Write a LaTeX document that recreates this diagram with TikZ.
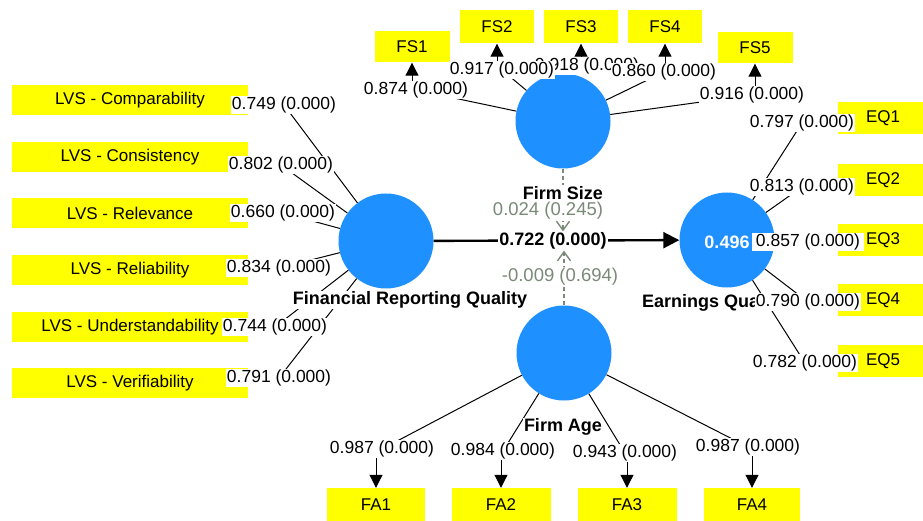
\documentclass[tikz,border=0pt]{standalone}
\usepackage{fontspec}
\setmainfont{Liberation Sans}
\usetikzlibrary{arrows.meta}
\definecolor{plsblue}{RGB}{30,144,255}
\definecolor{plsyellow}{RGB}{255,255,0}
\definecolor{modgrey}{RGB}{122,138,120}

\begin{document}
\begin{tikzpicture}[x=1pt, y=-1pt,
		latent/.style={circle, fill=plsblue, minimum size=95pt, inner sep=0pt},
		indicator/.style={fill=plsyellow, minimum height=31pt, inner sep=0pt, font=\fontsize{17}{20}\selectfont},
		loading/.style={fill=white, inner sep=1pt, font=\fontsize{17.5}{20}\selectfont},
		lvname/.style={fill=white, inner sep=1pt, font=\bfseries\fontsize{18}{21}\selectfont},
		modlabel/.style={fill=white, inner sep=1pt, text=modgrey, font=\fontsize{18.5}{21}\selectfont},
		wire/.style={line width=1pt},
		outarrow/.style={line width=1pt, -{Triangle[length=13pt, width=13pt]}},
		mainpath/.style={line width=2.4pt, -{Triangle[length=16pt, width=16pt]}},
		modpath/.style={line width=1.4pt, color=modgrey, dash pattern=on 4pt off 3pt, -{Straight Barb[length=9pt, width=13pt]}}]
		%%%%% START %%%%%
		
		\useasboundingbox (0, 0) rectangle (923, 521);
		
		% latent variables
		\node[latent] (frq) at (386, 241) {};
		\node[latent] (fsz) at (563, 121) {};
		\node[latent] (eq) at (727, 240) {};
		\node[latent] (fag) at (564, 353) {};
		
		% indicators
		\node[indicator, minimum width=236pt, minimum height=30pt] (c1) at (130, 100) {LVS - Comparability};
		\node[indicator, minimum width=236pt, minimum height=30pt] (c2) at (130, 157) {LVS - Consistency};
		\node[indicator, minimum width=236pt, minimum height=30pt] (c3) at (130, 213) {LVS - Relevance};
		\node[indicator, minimum width=236pt, minimum height=30pt] (c4) at (130, 270) {LVS - Reliability};
		\node[indicator, minimum width=236pt, minimum height=30pt] (c5) at (130, 327) {LVS - Understandability};
		\node[indicator, minimum width=236pt, minimum height=30pt] (c6) at (130, 383) {LVS - Verifiability};
		
		\node[indicator, minimum width=75pt] (fs1) at (412, 47) {FS1};
		\node[indicator, minimum width=74pt, minimum height=33pt] (fs2) at (497, 27) {FS2};
		\node[indicator, minimum width=74pt, minimum height=33pt] (fs3) at (581, 27) {FS3};
		\node[indicator, minimum width=74pt, minimum height=33pt] (fs4) at (665, 27) {FS4};
		\node[indicator, minimum width=75pt] (fs5) at (755, 48) {FS5};
		
		\node[indicator, minimum width=90pt, minimum height=32pt] (eq1) at (883, 118) {EQ1};
		\node[indicator, minimum width=90pt, minimum height=32pt] (eq2) at (883, 180) {EQ2};
		\node[indicator, minimum width=90pt, minimum height=32pt] (eq3) at (883, 240) {EQ3};
		\node[indicator, minimum width=90pt, minimum height=32pt] (eq4) at (883, 300) {EQ4};
		\node[indicator, minimum width=90pt, minimum height=32pt] (eq5) at (883, 361) {EQ5};
		
		\node[indicator, minimum width=98pt, minimum height=34pt] (fa1) at (376, 505) {FA1};
		\node[indicator, minimum width=99pt, minimum height=34pt] (fa2) at (501, 505) {FA2};
		\node[indicator, minimum width=99pt, minimum height=34pt] (fa3) at (627, 505) {FA3};
		\node[indicator, minimum width=96pt, minimum height=34pt] (fa4) at (752, 505) {FA4};
		
		% loading labels (coordinates only, text placed later)
		\coordinate (pc1) at (284, 105);
		\coordinate (pc2) at (281, 165);
		\coordinate (pc3) at (283, 213);
		\coordinate (pc4) at (279, 268);
		\coordinate (pc5) at (275, 327);
		\coordinate (pc6) at (279, 378);
		
		\draw[wire] (pc1) -- (frq);
		\draw[wire] (pc2) -- (frq);
		\draw[wire] (pc3) -- (frq);
		\draw[wire] (pc4) -- (frq);
		\draw[wire] (pc5) -- (frq);
		\draw[wire] (pc6) -- (frq);
		
		\node[loading] (lc1) at (pc1) {0.749 (0.000)};
		\node[loading] (lc2) at (pc2) {0.802 (0.000)};
		\node[loading] (lc3) at (pc3) {0.660 (0.000)};
		\node[loading] (lc4) at (pc4) {0.834 (0.000)};
		\node[loading] (lc6) at (pc6) {0.791 (0.000)};
		\node[loading] (lc5) at (pc5) {0.744 (0.000)};
		
		% firm size
		\coordinate (pfs1) at (416, 90);
		\coordinate (pfs2) at (502, 70);
		\coordinate (pfs3) at (587, 66);
		\coordinate (pfs4) at (664, 72);
		\coordinate (pfs5) at (752, 95);
		
		\draw[wire] (fsz) -- (pfs1);
		\draw[wire] (fsz) -- (pfs2);
		\draw[wire] (fsz) -- (pfs4);
		\draw[wire] (fsz) -- (pfs5);
		
		\node[loading] (lfs3) at (pfs3) {0.918 (0.000)};
		\node[loading] (lfs1) at (pfs1) {0.874 (0.000)};
		\node[loading] (lfs2) at (pfs2) {0.917 (0.000)};
		\node[loading] (lfs4) at (pfs4) {0.860 (0.000)};
		\node[loading] (lfs5) at (pfs5) {0.916 (0.000)};
		
		\draw[outarrow] (lfs1.north -| fs1.south) -- (fs1.south);
		\draw[outarrow] (lfs2.north -| fs2.south) -- (fs2.south);
		\draw[outarrow] (lfs3.north -| fs3.south) -- (fs3.south);
		\draw[outarrow] (lfs4.north -| fs4.south) -- (fs4.south);
		\draw[outarrow] (lfs5.north -| fs5.south) -- (fs5.south);
		
		% earnings quality
		\coordinate (peq1) at (802, 123);
		\coordinate (peq2) at (802, 187);
		\coordinate (peq3) at (808, 242);
		\coordinate (peq4) at (808, 302);
		\coordinate (peq5) at (805, 363);
		
		\draw[wire] (eq) -- (peq1);
		\draw[wire] (eq) -- (peq2);
		\draw[wire] (eq) -- (peq4);
		\draw[wire] (eq) -- (peq5);
		
		\node[text=white, font=\bfseries\fontsize{18}{21}\selectfont] (r2) at (727, 242) {0.496};
		\node[lvname, fill=none, anchor=west] (neq) at (641, 303) {Earnings Quality};
		
		\node[loading] (leq1) at (peq1) {0.797 (0.000)};
		\node[loading] (leq2) at (peq2) {0.813 (0.000)};
		\node[loading, inner xsep=4pt] (leq3) at (peq3) {0.857 (0.000)};
		\node[loading] (leq4) at (peq4) {0.790 (0.000)};
		\node[loading] (leq5) at (peq5) {0.782 (0.000)};
		
		% firm age
		\coordinate (pfa1) at (382, 449);
		\coordinate (pfa2) at (503, 451);
		\coordinate (pfa3) at (625, 453);
		\coordinate (pfa4) at (748, 447);
		
		\draw[wire] (fag) -- (pfa1);
		\draw[wire] (fag) -- (pfa2);
		\draw[wire] (fag) -- (pfa3);
		\draw[wire] (fag) -- (pfa4);
		
		\node[loading] (lfa1) at (pfa1) {0.987 (0.000)};
		\node[loading] (lfa2) at (pfa2) {0.984 (0.000)};
		\node[loading] (lfa3) at (pfa3) {0.943 (0.000)};
		\node[loading] (lfa4) at (pfa4) {0.987 (0.000)};
		
		\draw[outarrow] (lfa1.south -| fa1.north) -- (fa1.north);
		\draw[outarrow] (lfa2.south -| fa2.north) -- (fa2.north);
		\draw[outarrow] (lfa3.south -| fa3.north) -- (fa3.north);
		\draw[outarrow] (lfa4.south -| fa4.north) -- (fa4.north);
		
		% structural paths
		\draw[mainpath] (frq) -- (eq);
		\node[lvname] (lmain) at (553, 241) {0.722 (0.000)};
		
		\draw[modpath] (fsz) -- (lmain.north -| fsz.south);
		\draw[modpath] (fag) -- (lmain.south -| fag.north);
		
		\node[modlabel] (lmfs) at (548, 211) {0.024 (0.245)};
		\node[modlabel] (lmfa) at (560, 277) {-0.009 (0.694)};
		
		% construct names
		\node[lvname] (nfrq) at (410, 300) {Financial Reporting Quality};
		\node[lvname] (nfsz) at (563, 193) {Firm Size};
		\node[lvname] (nfag) at (563, 427) {Firm Age};
		
		%%%%% END %%%%%
	\end{tikzpicture}
\end{document}
